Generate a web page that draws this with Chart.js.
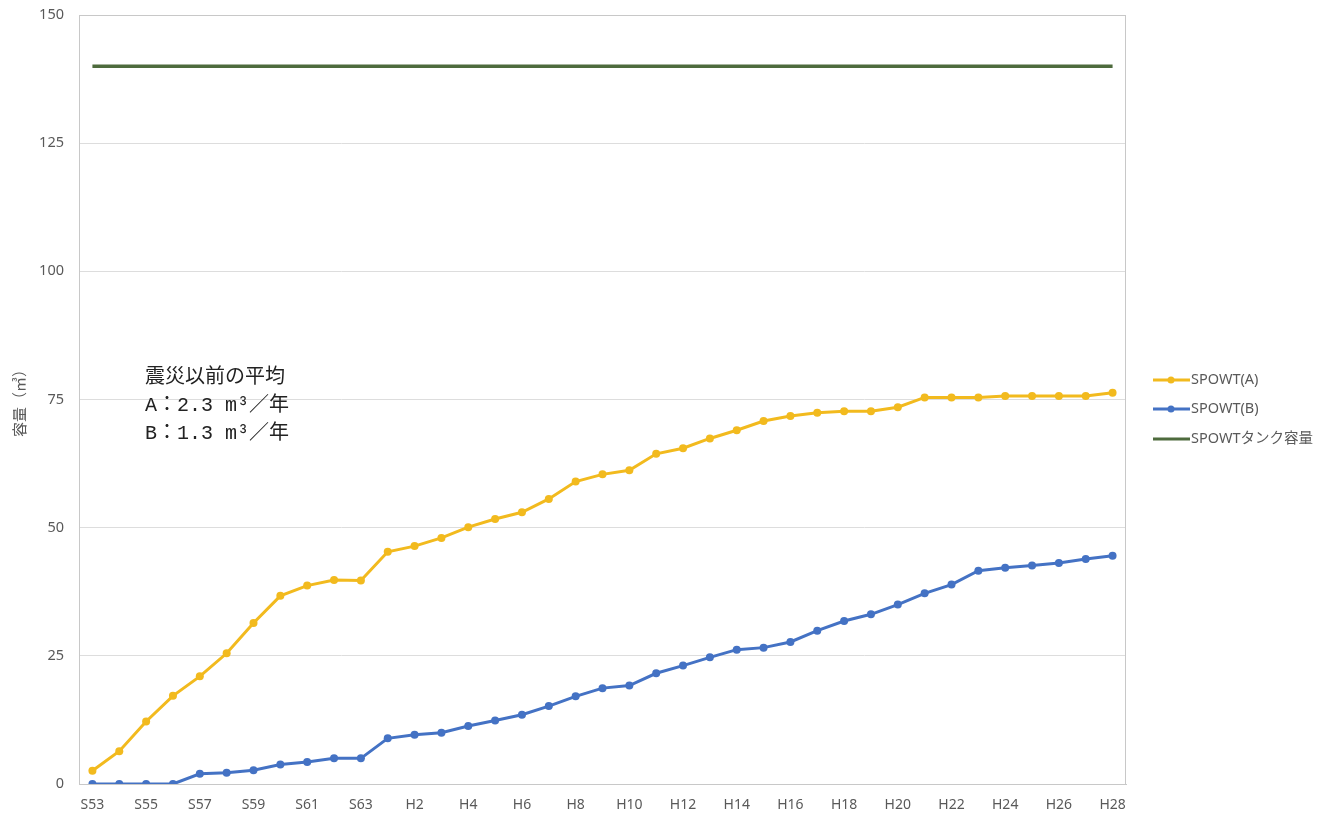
<!DOCTYPE html>
<html lang="ja">
<head>
<meta charset="utf-8">
<title>SPOWT 容量</title>
<script src="https://cdn.jsdelivr.net/npm/chart.js@4.4.1/dist/chart.umd.min.js"></script>
<style>
  html, body { margin: 0; padding: 0; background: #fff; }
  #wrap { width: 1334px; height: 816px; position: relative; }
</style>
</head>
<body>
<div id="wrap"><canvas id="spowtChart"></canvas></div>
<script>
// 年度 (S53〜S63, H1〜H28)
const years = ['S53', 'S54', 'S55', 'S56', 'S57', 'S58', 'S59', 'S60', 'S61', 'S62', 'S63',
  'H1', 'H2', 'H3', 'H4', 'H5', 'H6', 'H7', 'H8', 'H9', 'H10',
  'H11', 'H12', 'H13', 'H14', 'H15', 'H16', 'H17', 'H18', 'H19', 'H20',
  'H21', 'H22', 'H23', 'H24', 'H25', 'H26', 'H27', 'H28'];

// 容量 (㎥)
const spowtA = [2.6, 6.4, 12.2, 17.2, 21.0, 25.5, 31.4, 36.7, 38.7, 39.8, 39.7,
  45.3, 46.4, 48.0, 50.1, 51.7, 53.0, 55.6, 59.0, 60.4, 61.2,
  64.4, 65.5, 67.4, 69.0, 70.8, 71.8, 72.4, 72.7, 72.7, 73.5,
  75.4, 75.4, 75.4, 75.7, 75.7, 75.7, 75.7, 76.3];
const spowtB = [0, 0, 0, 0, 2.0, 2.2, 2.7, 3.8, 4.3, 5.0, 5.0,
  8.9, 9.6, 10.0, 11.3, 12.4, 13.5, 15.2, 17.1, 18.7, 19.2,
  21.6, 23.1, 24.7, 26.2, 26.6, 27.7, 29.9, 31.8, 33.1, 35.0,
  37.2, 38.9, 41.6, 42.2, 42.6, 43.1, 43.9, 44.5];
const tankCapacity = years.map(() => 140);

const seriesNames = ['SPOWT(A)', 'SPOWT(B)', 'SPOWTタンク容量'];
const yTicks = [0, 25, 50, 75, 100, 125, 150];

const noteLines = ['震災以前の平均', 'A：2.3 m³／年', 'B：1.3 m³／年'];

const GREY = '#595959';
const SANS = "'Noto Sans', 'Noto Sans CJK JP', sans-serif";

// 注記テキスト
const notePlugin = {
  id: 'noteText',
  afterDraw(chart) {
    const ctx = chart.ctx;
    ctx.save();
    ctx.fillStyle = '#222';
    ctx.font = "20px 'Liberation Mono', 'Noto Sans CJK JP', monospace";
    ctx.textBaseline = 'middle';
    noteLines.forEach((t, i) => ctx.fillText(t, 145, 378 + i * 28));
    ctx.restore();
  }
};

// プロットエリアの枠
const framePlugin = {
  id: 'plotFrame',
  beforeDatasetsDraw(chart) {
    const a = chart.chartArea;
    const ctx = chart.ctx;
    ctx.save();
    ctx.strokeStyle = '#C8C8C8';
    ctx.lineWidth = 1;
    ctx.strokeRect(a.left + 0.5, a.top + 0.5, a.right - a.left - 1, a.bottom - a.top);
    ctx.restore();
  }
};

// 凡例 (線+マーカー)
const legendPlugin = {
  id: 'lineLegend',
  afterDraw(chart) {
    const ctx = chart.ctx;
    const x0 = chart.chartArea.right + 27;
    const ys = [380, 409, 439];
    ctx.save();
    chart.data.datasets.forEach((ds, i) => {
      const y = ys[i];
      ctx.strokeStyle = ds.borderColor;
      ctx.lineWidth = 3;
      ctx.beginPath();
      ctx.moveTo(x0, y);
      ctx.lineTo(x0 + 37, y);
      ctx.stroke();
      if (ds.pointRadius > 0) {
        ctx.fillStyle = ds.borderColor;
        ctx.beginPath();
        ctx.arc(x0 + 18, y, 3.5, 0, Math.PI * 2);
        ctx.fill();
      }
      ctx.fillStyle = GREY;
      ctx.font = '14.5px ' + SANS;
      ctx.textBaseline = 'middle';
      ctx.fillText(ds.label, x0 + 38, y);
    });
    ctx.restore();
  }
};

new Chart(document.getElementById('spowtChart'), {
  type: 'line',
  data: {
    labels: years,
    datasets: [
      { label: seriesNames[0], data: spowtA, borderColor: '#F2BA1E', backgroundColor: '#F2BA1E', borderWidth: 3, pointRadius: 4, pointBorderWidth: 0 },
      { label: seriesNames[1], data: spowtB, borderColor: '#4472C4', backgroundColor: '#4472C4', borderWidth: 3, pointRadius: 4, pointBorderWidth: 0 },
      { label: seriesNames[2], data: tankCapacity, borderColor: '#4E6B3D', backgroundColor: '#4E6B3D', borderWidth: 3.5, pointRadius: 0 }
    ]
  },
  options: {
    responsive: true,
    maintainAspectRatio: false,
    animation: false,
    layout: { padding: { top: 15, right: 208, left: 0, bottom: 0 } },
    plugins: { legend: { display: false }, tooltip: { enabled: false } },
    scales: {
      x: {
        offset: true,
        grid: { display: false, drawTicks: false },
        border: { color: '#C8C8C8' },
        ticks: {
          autoSkip: false,
          maxRotation: 0,
          padding: 13,
          color: GREY,
          font: { size: 14, family: SANS },
          callback: (v, i) => (i % 2 === 0 ? years[i] : '')
        },
        afterFit: (s) => { s.height = 32; s.paddingLeft = 0; s.paddingRight = 0; }
      },
      y: {
        min: 0,
        max: 150,
        afterBuildTicks: (s) => { s.ticks = yTicks.map(v => ({ value: v })); },
        grid: { color: '#DDDDDD', drawTicks: false },
        border: { color: '#C8C8C8' },
        ticks: { padding: 15, color: GREY, font: { size: 14.5, family: SANS } },
        title: { display: true, text: '容量（㎥）', color: GREY, font: { size: 15, family: SANS }, padding: { top: 12, bottom: 0 } },
        afterFit: (s) => { s.width = 79; s.paddingTop = 0; s.paddingBottom = 0; }
      }
    }
  },
  plugins: [framePlugin, notePlugin, legendPlugin]
});
</script>
</body>
</html>
